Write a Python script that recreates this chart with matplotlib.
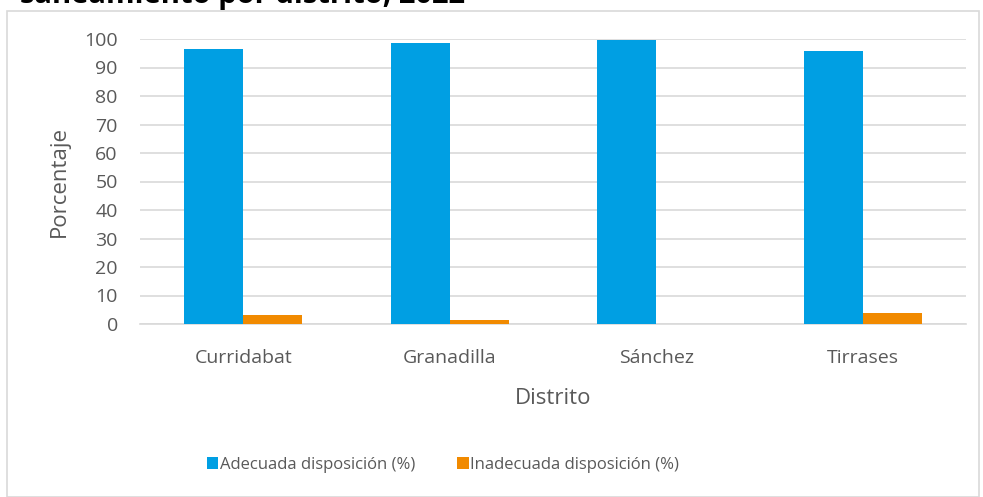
import numpy as np
import matplotlib
matplotlib.use('Agg')
import matplotlib.pyplot as plt
from matplotlib.patches import Rectangle

# Data
distritos = ['Curridabat', 'Granadilla', 'Sánchez', 'Tirrases']
adecuada = [96.6, 98.5, 99.8, 95.9]
inadecuada = [3.2, 1.3, 0.0, 3.8]
yticks = list(range(0, 101, 10))

BLUE = '#009FE3'
ORANGE = '#F18A00'
GRID = '#D9D9D9'
TEXT = '#595959'

plt.rcParams['font.family'] = ['Open Sans', 'DejaVu Sans']

fig = plt.figure(figsize=(9.83, 4.97), dpi=100)
ax = fig.add_axes([140 / 983, 1 - 324 / 497, 826 / 983, 285 / 497])

x = np.arange(len(distritos))
w = 0.285
ax.bar(x - w / 2, adecuada, width=w, color=BLUE, label='Adecuada disposición (%)', zorder=3)
ax.bar(x + w / 2, inadecuada, width=w, color=ORANGE, label='Inadecuada disposición (%)', zorder=3)

ax.set_xlim(-0.5, len(distritos) - 0.5)
ax.set_ylim(0, 100)
ax.set_yticks(yticks)
ax.set_xticks(x)
ax.set_xticklabels(distritos)
ax.tick_params(axis='both', length=0, labelsize=14, colors=TEXT)
ax.tick_params(axis='y', pad=16)
ax.tick_params(axis='x', pad=18)
ax.grid(axis='y', color=GRID, linewidth=1.2, zorder=0)
for side in ['top', 'right', 'left']:
    ax.spines[side].set_visible(False)
ax.spines['bottom'].set_color(GRID)
ax.spines['bottom'].set_linewidth(1.2)

ax.set_xlabel('Distrito', fontsize=16, color=TEXT, labelpad=15)
ax.set_ylabel('Porcentaje', fontsize=16, color=TEXT, labelpad=10)

# Legend at the bottom of the chart area
handles, labels = ax.get_legend_handles_labels()
fig.legend(handles, labels, loc='center', bbox_to_anchor=(443 / 983, 1 - 465 / 497),
           ncol=2, frameon=False, fontsize=12, labelcolor=TEXT,
           handlelength=0.7, handleheight=0.7, handletextpad=0.1, columnspacing=2.5)

# Chart area border
fig.patches.append(Rectangle((7 / 983, 0), 972 / 983, 1 - 11 / 497, transform=fig.transFigure,
                             fill=False, edgecolor=GRID, linewidth=1.2))

# Title, cut off at the top as in the reference
fig.text(20 / 983, 1 - 3 / 497, 'saneamiento por distrito, 2022', fontsize=21,
         fontweight='bold', color='black', ha='left', va='baseline')

fig.savefig('out.png', dpi=100)
